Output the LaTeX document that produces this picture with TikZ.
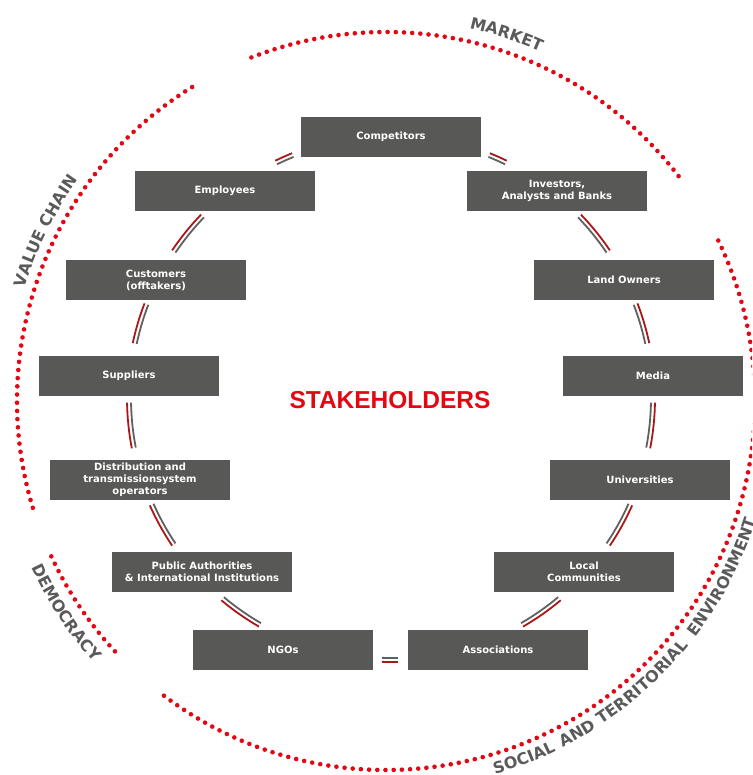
\documentclass[tikz,border=0pt]{standalone}
\usepackage{fontspec}
\setmainfont{DejaVu Sans}
\newfontfamily\titlefont{Liberation Sans}
\usetikzlibrary{decorations.text}

\definecolor{boxgray}{RGB}{88,88,86}
\definecolor{dotred}{RGB}{227,6,19}
\definecolor{titlered}{RGB}{227,6,19}
\definecolor{arcgray}{RGB}{90,90,90}
\definecolor{linkred}{RGB}{172,22,22}
\definecolor{linkgray}{RGB}{96,96,96}

\newcommand\arctext{\bfseries\fontsize{16}{16}\selectfont}
% double arc (red outside, grey inside) on the inner ring around (C)
\newcommand\linkarc[2]{%
  \draw[linkline, draw=linkred, shift={(C)}] (#1:264) arc[start angle=#1, end angle=#2, radius=264];
  \draw[linkline, draw=linkgray, shift={(C)}] (#1:260) arc[start angle=#1, end angle=#2, radius=260];}
% one word set along the lower outer ring, starting at angle #1
\newcommand\lowerword[2]{%
  \path[arclabel, decoration={text align=left, text={|\arctext|#2}}, shift={(O)}]
    (#1:389) arc[start angle=#1, end angle=#1+40, radius=389];}

\begin{document}
\begin{tikzpicture}[x=1pt,y=1pt,
  stakebox/.style={fill=boxgray, text=white, font=\bfseries\fontsize{10}{12}\selectfont,
    minimum width=180pt, minimum height=40pt, align=center, inner sep=0pt},
  dotline/.style={draw=dotred, line width=4.6pt, line cap=round, dash pattern=on 0pt off 8.2pt},
  linkline/.style={line width=1.8pt},
  arclabel/.style={decorate, decoration={text along path, text color=arcgray}}]
\useasboundingbox (0,0) rectangle (752,775);
\clip (0,0) rectangle (752,775);

\coordinate (O) at (386,374);
\coordinate (C) at (391,377);

% outer dotted ring, split into four sectors
\draw[dotline, shift={(O)}] (111.4:369) arc[start angle=111.4, end angle=36.9, radius=369];
\draw[dotline, shift={(O)}] (121.7:369) arc[start angle=121.7, end angle=197.2, radius=369];
\draw[dotline, shift={(O)}] (204.9:369) arc[start angle=204.9, end angle=223, radius=369];
\draw[dotline, shift={(O)}] (233:369) arc[start angle=233, end angle=386.9, radius=369];

% sector labels
\path[arclabel, decoration={text align=center, text={|\arctext|MARKET}}, shift={(O)}]
  (90:382) arc[start angle=90, end angle=53.6, radius=382];
\path[arclabel, decoration={text align=center, text={|\arctext|VALUE CHAIN}}, shift={(O)}]
  (178:379) arc[start angle=178, end angle=129, radius=379];
\path[arclabel, decoration={text align=center, text={|\arctext|DEMOCRACY}}, shift={(O)}]
  (195:392) arc[start angle=195, end angle=232, radius=392];
\lowerword{-73.7}{SOCIAL}
\lowerword{-63.0}{AND}
\lowerword{-56.3}{TERRITORIAL}
\lowerword{-37.4}{ENVIRONMENT}

% stakeholders
\node[stakebox] (comp)  at (391,638) {Competitors};
\node[stakebox] (emp)   at (225,584) {Employees};
\node[stakebox] (inv)   at (557,584) {Investors,\\Analysts and Banks};
\node[stakebox] (cust)  at (156,495) {Customers\\(offtakers)};
\node[stakebox] (land)  at (624,495) {Land Owners};
\node[stakebox] (supp)  at (129,399) {Suppliers};
\node[stakebox] (media) at (653,399) {Media};
\node[stakebox] (dist)  at (140,295) {Distribution and\\transmissionsystem\\operators};
\node[stakebox] (univ)  at (640,295) {Universities};
\node[stakebox] (pub)   at (202,203) {Public Authorities\\\& International Institutions};
\node[stakebox] (local) at (584,203) {Local\\Communities};
\node[stakebox] (ngo)   at (283,125) {NGOs};
\node[stakebox] (assoc) at (498,125) {Associations};

\node[text=titlered, font=\titlefont\bfseries\fontsize{24.5}{24.5}\selectfont] (title) at (390,375) {STAKEHOLDERS};

% links between neighbouring stakeholders
\linkarc{112}{116}
\linkarc{136}{146}
\linkarc{159}{168}
\linkarc{181}{191}
\linkarc{204}{214}
\linkarc{230}{240}
\linkarc{268}{271.5}
\linkarc{300}{310}
\linkarc{326}{336}
\linkarc{349}{359}
\linkarc{12}{21}
\linkarc{34}{44}
\linkarc{64}{68}
\end{tikzpicture}
\end{document}
